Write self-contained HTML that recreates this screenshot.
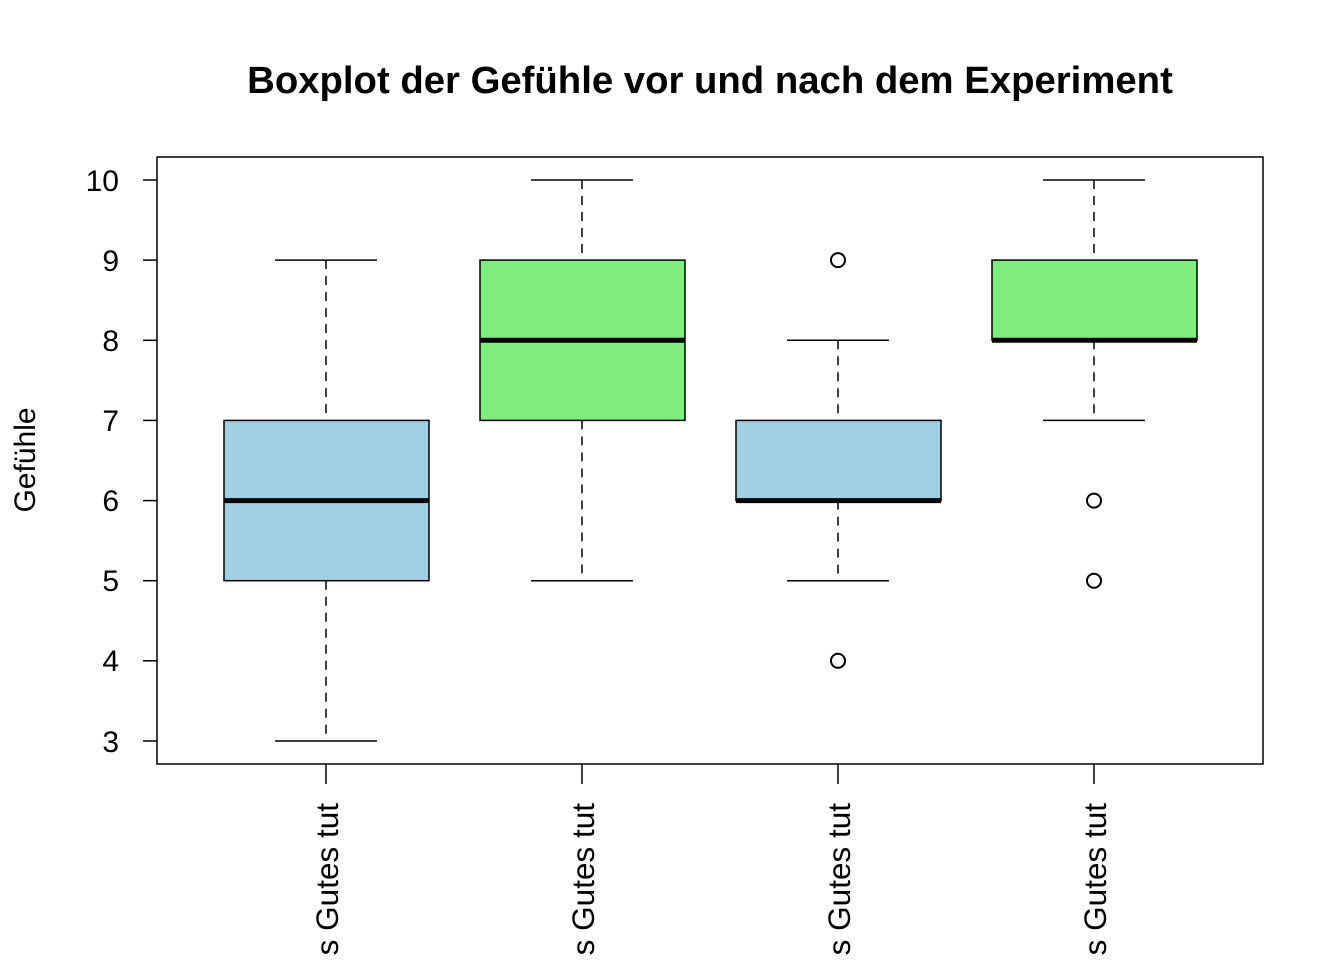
<!DOCTYPE html>
<html><head><meta charset="utf-8"><style>html,body{margin:0;padding:0;background:#fff;overflow:hidden}svg{display:block}</style></head>
<body>
<svg width="1344" height="960" viewBox="0 0 1344 960" xmlns="http://www.w3.org/2000/svg" font-family="Liberation Sans, Arial, sans-serif">
<rect width="1344" height="960" fill="#fff"/>
<text x="710" y="93" font-size="38.3" font-weight="bold" text-anchor="middle">Boxplot der Gefühle vor und nach dem Experiment</text>
<rect x="157" y="157" width="1106" height="607" fill="none" stroke="#000" stroke-width="1.5"/>
<g stroke="#000" stroke-width="1.5">
<line x1="143" y1="180" x2="157" y2="180"/><line x1="143" y1="260.1" x2="157" y2="260.1"/><line x1="143" y1="340.3" x2="157" y2="340.3"/><line x1="143" y1="420.4" x2="157" y2="420.4"/><line x1="143" y1="500.6" x2="157" y2="500.6"/><line x1="143" y1="580.7" x2="157" y2="580.7"/><line x1="143" y1="660.8" x2="157" y2="660.8"/><line x1="143" y1="741" x2="157" y2="741"/>
<line x1="326" y1="764" x2="326" y2="784"/><line x1="582" y1="764" x2="582" y2="784"/><line x1="838" y1="764" x2="838" y2="784"/><line x1="1094" y1="764" x2="1094" y2="784"/>
</g>
<g font-size="30" text-anchor="end">
<text x="119" y="191">10</text><text x="119" y="271">9</text><text x="119" y="351">8</text><text x="119" y="431">7</text><text x="119" y="511">6</text><text x="119" y="591">5</text><text x="119" y="671">4</text><text x="119" y="752">3</text>
</g>
<text transform="translate(35,460) rotate(-90)" font-size="30" text-anchor="middle">Gefühle</text>
<g font-size="31.5" text-anchor="end">
<text transform="translate(338,803) rotate(-90)">s Gutes tut</text>
<text transform="translate(594,803) rotate(-90)">s Gutes tut</text>
<text transform="translate(850,803) rotate(-90)">s Gutes tut</text>
<text transform="translate(1106,803) rotate(-90)">s Gutes tut</text>
</g>
<g stroke="#000" stroke-width="1.5" fill="none">
<line x1="326" y1="260.1" x2="326" y2="420.4" stroke-dasharray="9,7"/>
<line x1="326" y1="580.7" x2="326" y2="741" stroke-dasharray="9,7"/>
<line x1="275" y1="260.1" x2="377" y2="260.1"/><line x1="275" y1="741" x2="377" y2="741"/>
<rect x="224" y="420.4" width="205" height="160.3" fill="#9FCFE0"/>
<line x1="224" y1="500.6" x2="429" y2="500.6" stroke-width="5"/>
<line x1="582" y1="180" x2="582" y2="260.1" stroke-dasharray="9,7"/>
<line x1="582" y1="420.4" x2="582" y2="580.7" stroke-dasharray="9,7"/>
<line x1="531" y1="180" x2="633" y2="180"/><line x1="531" y1="580.7" x2="633" y2="580.7"/>
<rect x="480" y="260.1" width="205" height="160.3" fill="#80EE7E"/>
<line x1="480" y1="340.3" x2="685" y2="340.3" stroke-width="5"/>
<line x1="838" y1="340.3" x2="838" y2="420.4" stroke-dasharray="9,7"/>
<line x1="838" y1="500.6" x2="838" y2="580.7" stroke-dasharray="9,7"/>
<line x1="787" y1="340.3" x2="889" y2="340.3"/><line x1="787" y1="580.7" x2="889" y2="580.7"/>
<rect x="736" y="420.4" width="205" height="80.2" fill="#9FCFE0"/>
<line x1="736" y1="500.6" x2="941" y2="500.6" stroke-width="5"/>
<circle cx="838" cy="260.1" r="7" stroke-width="2"/><circle cx="838" cy="660.8" r="7" stroke-width="2"/>
<line x1="1094" y1="180" x2="1094" y2="260.1" stroke-dasharray="9,7"/>
<line x1="1094" y1="340.3" x2="1094" y2="420.4" stroke-dasharray="9,7"/>
<line x1="1043" y1="180" x2="1145" y2="180"/><line x1="1043" y1="420.4" x2="1145" y2="420.4"/>
<rect x="992" y="260.1" width="205" height="80.2" fill="#80EE7E"/>
<line x1="992" y1="340.3" x2="1197" y2="340.3" stroke-width="5"/>
<circle cx="1094" cy="500.6" r="7" stroke-width="2"/><circle cx="1094" cy="580.7" r="7" stroke-width="2"/>
</g>
</svg>
</body></html>
